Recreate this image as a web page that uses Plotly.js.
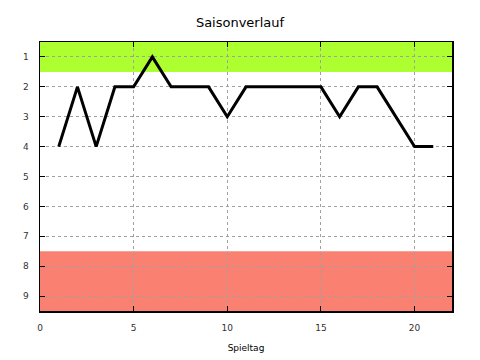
<!DOCTYPE html>
<html><head><meta charset="utf-8">
<script src="https://cdn.plot.ly/plotly-3.0.1.min.js"></script>
<style>body{margin:0;padding:0;background:#fff}#c{width:480px;height:360px}</style>
</head><body><div id="c"></div>
<script>
const spieltag = [1,2,3,4,5,6,7,8,9,10,11,12,13,14,15,16,17,18,19,20,21];
const platz = [4,2,4,2,2,1,2,2,2,3,2,2,2,2,2,3,2,2,3,4,4];
const topZone = [0.5, 1.5];
const bottomZone = [7.5, 9.5];
const xTicks = [0,5,10,15,20];
const yTicks = [1,2,3,4,5,6,7,8,9];

const axisCommon = {
  showline: true, linecolor: '#000', linewidth: 1.5, mirror: 'ticks',
  ticks: 'inside', ticklen: 5, tickcolor: '#000', tickwidth: 1,
  showgrid: true, gridcolor: '#a0a0a0', griddash: 'dot', gridwidth: 1,
  zeroline: false,
  tickfont: {family: 'DejaVu Sans, sans-serif', size: 9, color: '#333'}
};

Plotly.newPlot('c', [{
  x: spieltag, y: platz, type: 'scatter', mode: 'lines',
  line: {color: '#000', width: 3}, hoverinfo: 'skip'
}], {
  width: 480, height: 360,
  margin: {l: 40, r: 28, t: 42, b: 49},
  paper_bgcolor: '#fff', plot_bgcolor: '#fff',
  showlegend: false,
  title: {text: 'Saisonverlauf', x: 0.5, xanchor: 'center', y: 0.938, yanchor: 'middle',
          font: {family: 'DejaVu Sans, sans-serif', size: 13, color: '#000'}},
  xaxis: Object.assign({}, axisCommon, {
    range: [0, 22], tickvals: xTicks, ticktext: xTicks.map(String),
    ticklabelstandoff: 8,
    title: {text: 'Spieltag', font: {family: 'DejaVu Sans, sans-serif', size: 9, color: '#000'}, standoff: 12}
  }),
  yaxis: Object.assign({}, axisCommon, {
    range: [9.5, 0.5], tickvals: yTicks, ticktext: yTicks.map(String),
    ticklabelstandoff: 8
  }),
  shapes: [
    {type: 'rect', xref: 'paper', yref: 'y', x0: 0, x1: 1, y0: topZone[0], y1: topZone[1],
     fillcolor: '#adff2f', line: {width: 0}, layer: 'below'},
    {type: 'rect', xref: 'paper', yref: 'y', x0: 0, x1: 1, y0: bottomZone[0], y1: bottomZone[1],
     fillcolor: '#fa8072', line: {width: 0}, layer: 'below'}
  ]
}, {displayModeBar: false, staticPlot: true});
</script></body></html>
